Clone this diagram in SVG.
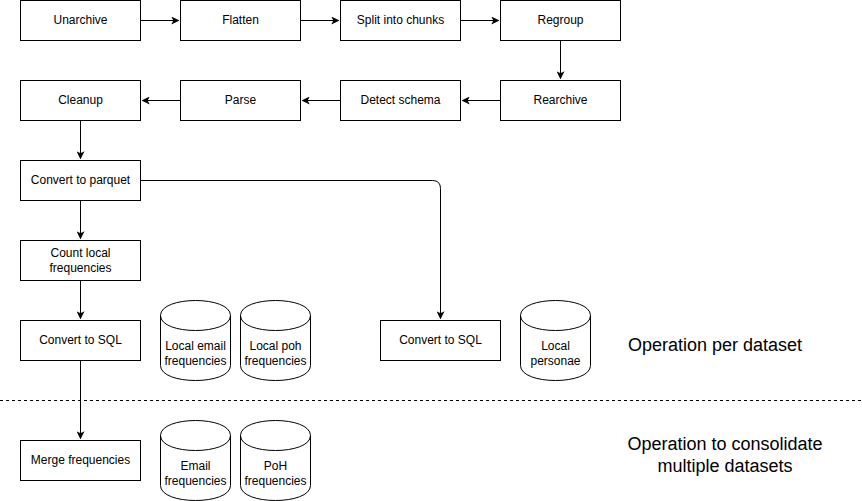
<svg xmlns="http://www.w3.org/2000/svg" width="862" height="501" viewBox="0 0 862 501">
<style>
.box{fill:#fff;stroke:#000;stroke-width:1}
.cyl{fill:#fff;stroke:#000;stroke-width:1}
.t{font-family:"Liberation Sans",Arial,sans-serif;font-size:12px;fill:#000;text-anchor:middle;dominant-baseline:central}
.big{font-family:"Liberation Sans",Arial,sans-serif;font-size:18px;fill:#000;text-anchor:middle;dominant-baseline:central}
.c{fill:none;stroke:#000;stroke-width:1}
</style>
<defs>
<marker id="arr" viewBox="0 0 10 10" refX="9" refY="5" markerWidth="8" markerHeight="8" markerUnits="userSpaceOnUse" orient="auto">
<path d="M0,0 L10,5 L0,10 L2.5,5 Z" fill="#000"/>
</marker>
<path id="cylshape" d="M0,15 C0,-5 70,-5 70,15 L70,65 C70,85 0,85 0,65 Z M0,15 C0,35 70,35 70,15"/>
</defs>
<rect width="862" height="501" fill="#fff"/>
<g id="connectors">
<path class="c" d="M140.5,20.5 L178.5,20.5" marker-end="url(#arr)"/>
<path class="c" d="M300.5,20.5 L338.5,20.5" marker-end="url(#arr)"/>
<path class="c" d="M460.5,20.5 L498.5,20.5" marker-end="url(#arr)"/>
<path class="c" d="M560.5,40.5 L560.5,78.5" marker-end="url(#arr)"/>
<path class="c" d="M500.5,100.5 L462.5,100.5" marker-end="url(#arr)"/>
<path class="c" d="M340.5,100.5 L302.5,100.5" marker-end="url(#arr)"/>
<path class="c" d="M180.5,100.5 L142.5,100.5" marker-end="url(#arr)"/>
<path class="c" d="M80.5,120.5 L80.5,158.5" marker-end="url(#arr)"/>
<path class="c" d="M80.5,200.5 L80.5,238.5" marker-end="url(#arr)"/>
<path class="c" d="M80.5,280.5 L80.5,318.5" marker-end="url(#arr)"/>
<path class="c" d="M80.5,360.5 L80.5,438.5" marker-end="url(#arr)"/>
<path class="c" d="M140.5,180.5 L432.5,180.5 Q440.5,180.5 440.5,188.5 L440.5,318.5" marker-end="url(#arr)"/>
</g>
<line x1="0" y1="400.5" x2="862" y2="400.5" stroke="#000" stroke-width="1" stroke-dasharray="3,3"/>
<g id="unarchive"><rect class="box" x="20.5" y="0.5" width="120" height="40"/><text class="t" x="80.5" y="19.5">Unarchive</text></g>
<g id="flatten"><rect class="box" x="180.5" y="0.5" width="120" height="40"/><text class="t" x="240.5" y="19.5">Flatten</text></g>
<g id="split"><rect class="box" x="340.5" y="0.5" width="120" height="40"/><text class="t" x="400.5" y="19.5">Split into chunks</text></g>
<g id="regroup"><rect class="box" x="500.5" y="0.5" width="120" height="40"/><text class="t" x="560.5" y="19.5">Regroup</text></g>
<g id="rearchive"><rect class="box" x="500.5" y="80.5" width="120" height="40"/><text class="t" x="560.5" y="99.5">Rearchive</text></g>
<g id="detect"><rect class="box" x="340.5" y="80.5" width="120" height="40"/><text class="t" x="400.5" y="99.5">Detect schema</text></g>
<g id="parse"><rect class="box" x="180.5" y="80.5" width="120" height="40"/><text class="t" x="240.5" y="99.5">Parse</text></g>
<g id="cleanup"><rect class="box" x="20.5" y="80.5" width="120" height="40"/><text class="t" x="80.5" y="99.5">Cleanup</text></g>
<g id="parquet"><rect class="box" x="20.5" y="160.5" width="120" height="40"/><text class="t" x="80.5" y="179.5">Convert to parquet</text></g>
<g id="count"><rect class="box" x="20.5" y="240.5" width="120" height="40"/><text class="t" x="80.5" y="252.5">Count local</text><text class="t" x="80.5" y="267.5">frequencies</text></g>
<g id="sql1"><rect class="box" x="20.5" y="320.5" width="120" height="40"/><text class="t" x="80.5" y="339.5">Convert to SQL</text></g>
<g id="sql2"><rect class="box" x="380.5" y="320.5" width="120" height="40"/><text class="t" x="440.5" y="339.5">Convert to SQL</text></g>
<g id="merge"><rect class="box" x="20.5" y="440.5" width="120" height="40"/><text class="t" x="80.5" y="459.5">Merge frequencies</text></g>
<g id="localemail"><use href="#cylshape" class="cyl" x="160.5" y="300.5"/><text class="t" x="195.5" y="345.5">Local email</text><text class="t" x="195.5" y="360.5">frequencies</text></g>
<g id="localpoh"><use href="#cylshape" class="cyl" x="240.5" y="300.5"/><text class="t" x="275.5" y="345.5">Local poh</text><text class="t" x="275.5" y="360.5">frequencies</text></g>
<g id="personae"><use href="#cylshape" class="cyl" x="520.5" y="300.5"/><text class="t" x="555.5" y="345.5">Local</text><text class="t" x="555.5" y="360.5">personae</text></g>
<g id="emailfreq"><use href="#cylshape" class="cyl" x="160.5" y="420.5"/><text class="t" x="195.5" y="465.5">Email</text><text class="t" x="195.5" y="480.5">frequencies</text></g>
<g id="pohfreq"><use href="#cylshape" class="cyl" x="240.5" y="420.5"/><text class="t" x="275.5" y="465.5">PoH</text><text class="t" x="275.5" y="480.5">frequencies</text></g>
<g id="label1"><text class="big" x="715" y="344.5">Operation per dataset</text></g>
<g id="label2"><text class="big" x="725" y="443.5">Operation to consolidate</text><text class="big" x="725" y="465.5">multiple datasets</text></g>
</svg>
